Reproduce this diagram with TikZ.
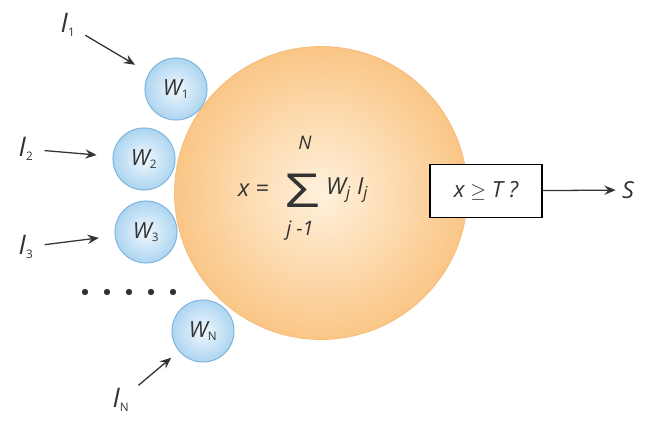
\documentclass[tikz,border=0pt]{standalone}
\usepackage{amsmath}
\usepackage{fontspec}
\setmainfont{Open Sans}
\usepackage{tikz}
\usetikzlibrary{arrows.meta,positioning}
\definecolor{cOrgIn}{HTML}{FFF1DC}
\definecolor{cOrgOut}{HTML}{FAC686}
\definecolor{cOrgLine}{HTML}{F3BC78}
\definecolor{cBluIn}{HTML}{F0F8FD}
\definecolor{cBluOut}{HTML}{ADD5F1}
\definecolor{cBluLine}{HTML}{80B5DD}
\definecolor{cInk}{HTML}{333333}
\newcommand{\lo}[1]{\textsubscript{\upshape\fontsize{10}{10}\selectfont #1}}
\tikzset{
  soma/.style={circle,draw=cOrgLine,line width=0.6pt,inner color=cOrgIn,outer color=cOrgOut,minimum size=8.79cm,inner sep=0pt},
  weight/.style={circle,draw=cBluLine,line width=0.9pt,inner color=cBluIn,outer color=cBluOut,minimum size=1.86cm,inner sep=0pt,font=\fontsize{19}{22}\selectfont\itshape,text=cInk},
  inlab/.style={inner sep=1pt,font=\fontsize{23}{26}\selectfont\itshape,text=cInk},
  formula/.style={inner sep=0pt,font=\fontsize{20}{24}\selectfont\itshape,text=cInk},
  thres/.style={draw=black,line width=1.5pt,fill=white,minimum width=3.36cm,minimum height=1.59cm,inner sep=2pt,font=\fontsize{19}{22}\selectfont\itshape,text=cInk},
  inarrow/.style={-{Stealth[length=3.4mm,width=2.8mm,inset=1.2mm]},line width=1.1pt,cInk,shorten >=0.48cm,shorten <=0.3cm},
}

\begin{document}
\begin{tikzpicture}[x=0.03cm,y=-0.03cm]
  \useasboundingbox (0,0) rectangle (647,421);
  % cell body
  \node[soma] (core) at (321,193) {};
  \node[formula,font=\fontsize{40}{40}\selectfont\upshape] (sig) at (302,191) {\scalebox{1.28}[1]{Σ}};
  \node[formula,font=\fontsize{16}{18}\selectfont\itshape] (top) at (305,143) {N};
  \node[formula,font=\fontsize{17}{20}\selectfont\itshape] (bot) at (300,231) {j -1};
  \node[formula,anchor=east] (lhs) at (269,190) {x =};
  \node[formula,anchor=west] (rhs) at (326,190) {W\textsubscript{j} I\textsubscript{j}};
  % weights
  \node[weight] (w1) at (176,89) {W\lo{1}};
  \node[weight] (w2) at (144,159) {W\lo{2}};
  \node[weight] (w3) at (146,232) {W\lo{3}};
  \node[weight] (wn) at (203,331) {W\lo{N}};
  \foreach \k in {0,...,4}
    \fill[cInk] (85+22*\k,292) circle (3.2);
  % inputs
  \node[inlab] (i1) at (68,25) {I\lo{1}};
  \node[inlab] (i2) at (26,149) {I\lo{2}};
  \node[inlab] (i3) at (26,247) {I\lo{3}};
  \node[inlab] (in) at (121,400) {I\lo{N}};
  \draw[inarrow] (i1) -- (w1);
  \draw[inarrow] (i2) -- (w2);
  \draw[inarrow] (i3) -- (w3);
  \draw[inarrow,shorten >=0.3cm] (in) -- (wn);
  % threshold
  \node[thres] (test) at (486,191) {x $\geq$ T ?};
  \node[inlab,font=\fontsize{20}{24}\selectfont\itshape] (s) at (628,190) {S};
  \draw[inarrow,shorten <=0pt,shorten >=0.15cm] (test) -- (s);
\end{tikzpicture}
\end{document}
